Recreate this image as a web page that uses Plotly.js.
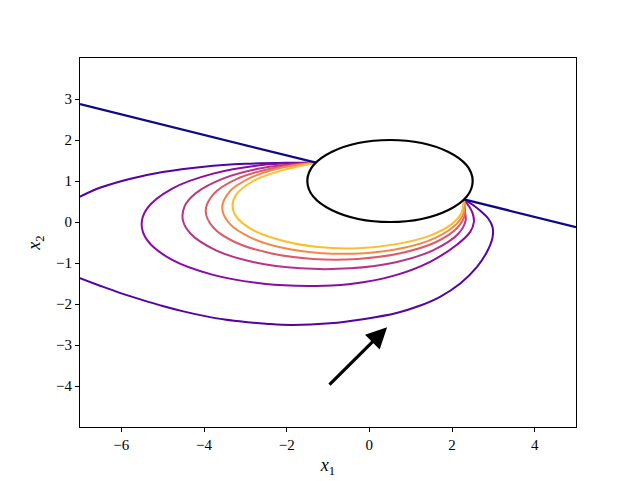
<!DOCTYPE html>
<html>
<head>
<meta charset="utf-8">
<script src="https://cdn.plot.ly/plotly-3.0.1.min.js"></script>
<style>html,body{margin:0;padding:0;background:#fff;}#plot{width:641px;height:481px;}</style>
</head>
<body>
<div id="plot"></div>
<script>
// ---- data ----
const xTicks = [-6, -4, -2, 0, 2, 4];
const yTicks = [-4, -3, -2, -1, 0, 1, 2, 3];

// obstacle ellipse: center and semi-axes
const ellipseCenter = [0.5, 1.0];
const ellipseRadii = [2.0, 1.0];

// straight line through the ellipse (two outside parts)
const lineLeftX = [-7.0, -1.289];
const lineLeftY = [2.875, 1.447];
const lineRightX = [2.289, 5.0];
const lineRightY = [0.553, -0.125];

// curves (outer to inner), from the upper-left contact point round to the right one
const c1x = [-1.289, -2.0, -3.0, -4.0, -5.0, -5.8, -6.5, -7.0, -7.4, -7.7, -7.88, -7.85, -7.6, -7.3, -7.0, -6.5, -6.0, -5.5, -5.0, -4.5, -4.0, -3.5, -3.0, -2.5, -1.9, -0.95, -0.15, 0.66, 1.2, 1.7, 2.2, 2.6, 2.85, 2.98, 2.98, 2.88, 2.70, 2.50, 2.289];
const c1y = [1.447, 1.445, 1.42, 1.35, 1.22, 1.05, 0.84, 0.62, 0.42, 0.12, -0.30, -0.72, -1.07, -1.25, -1.37, -1.56, -1.74, -1.90, -2.05, -2.18, -2.29, -2.38, -2.44, -2.48, -2.51, -2.47, -2.37, -2.22, -2.05, -1.83, -1.50, -1.10, -0.72, -0.38, -0.12, 0.08, 0.26, 0.42, 0.553];

const c2x = [-1.289, -2.50, -3.78, -4.78, -5.37, -5.51, -5.37, -4.78, -3.78, -2.50, -1.45, -0.90, -0.15, 0.66, 1.47, 2.11, 2.44, 2.53, 2.50, 2.42, 2.289];
const c2y = [1.447, 1.40, 1.18, 0.81, 0.34, -0.055, -0.45, -0.92, -1.29, -1.51, -1.56, -1.55, -1.47, -1.29, -0.97, -0.56, -0.24, 0.0, 0.21, 0.37, 0.553];

const c3x = [-1.289, -2.52, -3.51, -4.20, -4.47, -4.51, -4.31, -3.71, -2.79, -1.66, -0.47, 0.64, 1.54, 2.14, 2.33, 2.29, 2.289];
const c3y = [1.447, 1.33, 1.07, 0.70, 0.38, 0.04, -0.30, -0.69, -0.98, -1.13, -1.13, -0.98, -0.69, -0.30, 0.04, 0.38, 0.553];

const c4x = [-1.289, -2.39, -3.23, -3.77, -3.96, -3.77, -3.23, -2.39, -1.37, -0.28, 0.75, 1.59, 2.13, 2.31, 2.31, 2.289];
const c4y = [1.447, 1.30, 1.04, 0.68, 0.27, -0.14, -0.50, -0.76, -0.90, -0.90, -0.76, -0.50, -0.14, 0.17, 0.37, 0.553];

const c5x = [-1.289, -2.10, -2.87, -3.38, -3.56, -3.38, -2.87, -2.10, -1.14, -0.12, 0.84, 1.61, 2.12, 2.29, 2.289];
const c5y = [1.447, 1.33, 1.08, 0.74, 0.35, -0.04, -0.38, -0.63, -0.76, -0.76, -0.63, -0.38, -0.04, 0.25, 0.553];

const c6x = [-1.289, -2.12, -2.81, -3.22, -3.31, -3.22, -2.81, -2.12, -1.24, -0.28, 0.66, 1.45, 2.01, 2.23, 2.27, 2.289];
const c6y = [1.447, 1.26, 1.00, 0.67, 0.40, 0.13, -0.20, -0.45, -0.61, -0.64, -0.54, -0.34, -0.04, 0.22, 0.40, 0.553];

const curveXs = [c1x, c2x, c3x, c4x, c5x, c6x];
const curveYs = [c1y, c2y, c3y, c4y, c5y, c6y];
const curveColors = ['#5302a3', '#8b0aa5', '#b83289', '#db5c68', '#f48849', '#febd2a'];
const lineColor = '#0d0887';

// arrow: tail and head
const arrowTail = [-1.0, -4.0];
const arrowHead = [0.43, -2.57];

// ---- build figure ----
const traces = [];
for (let i = 0; i < curveXs.length; i++) {
  traces.push({
    x: curveXs[i], y: curveYs[i], type: 'scatter', mode: 'lines',
    line: {color: curveColors[i], width: 2, shape: 'spline', smoothing: 1},
    hoverinfo: 'skip', showlegend: false
  });
}
traces.push({x: lineLeftX, y: lineLeftY, type: 'scatter', mode: 'lines',
  line: {color: lineColor, width: 2.2}, showlegend: false, hoverinfo: 'skip'});
traces.push({x: lineRightX, y: lineRightY, type: 'scatter', mode: 'lines',
  line: {color: lineColor, width: 2.2}, showlegend: false, hoverinfo: 'skip'});

const serif = 'Liberation Serif, DejaVu Serif, serif';
const axisCommon = {
  showgrid: false, zeroline: false, showline: true, mirror: true,
  linecolor: '#000', linewidth: 1.1, ticks: 'outside', ticklen: 4, tickwidth: 1,
  tickcolor: '#000', tickfont: {family: serif, size: 15, color: '#000'}
};

const layout = {
  width: 641, height: 481,
  margin: {l: 80, r: 65, t: 58, b: 54},
  paper_bgcolor: '#fff', plot_bgcolor: '#fff',
  showlegend: false,
  xaxis: Object.assign({}, axisCommon, {
    range: [-7, 5], tickvals: xTicks, ticktext: xTicks.map(v => v < 0 ? '\u2212' + Math.abs(v) : String(v)),
    title: {text: '<i>x</i><sub>1</sub>', font: {family: serif, size: 18, color: '#000'}, standoff: 6}
  }),
  yaxis: Object.assign({}, axisCommon, {
    range: [-5, 4], tickvals: yTicks, ticktext: yTicks.map(v => v < 0 ? '\u2212' + Math.abs(v) : String(v)),
    title: {text: '<i>x</i><sub>2</sub>', font: {family: serif, size: 18, color: '#000'}, standoff: 10}
  }),
  shapes: [{
    type: 'circle', xref: 'x', yref: 'y', layer: 'above',
    x0: ellipseCenter[0] - ellipseRadii[0], x1: ellipseCenter[0] + ellipseRadii[0],
    y0: ellipseCenter[1] - ellipseRadii[1], y1: ellipseCenter[1] + ellipseRadii[1],
    line: {color: '#000', width: 2.2}, fillcolor: 'rgba(0,0,0,0)'
  }],
  annotations: [{
    x: arrowHead[0], y: arrowHead[1], ax: arrowTail[0], ay: arrowTail[1],
    xref: 'x', yref: 'y', axref: 'x', ayref: 'y',
    text: '', showarrow: true, arrowhead: 2, arrowsize: 1.3, arrowwidth: 3.2, arrowcolor: '#000'
  }]
};

Plotly.newPlot('plot', traces, layout, {staticPlot: true, displayModeBar: false});
</script>
</body>
</html>
